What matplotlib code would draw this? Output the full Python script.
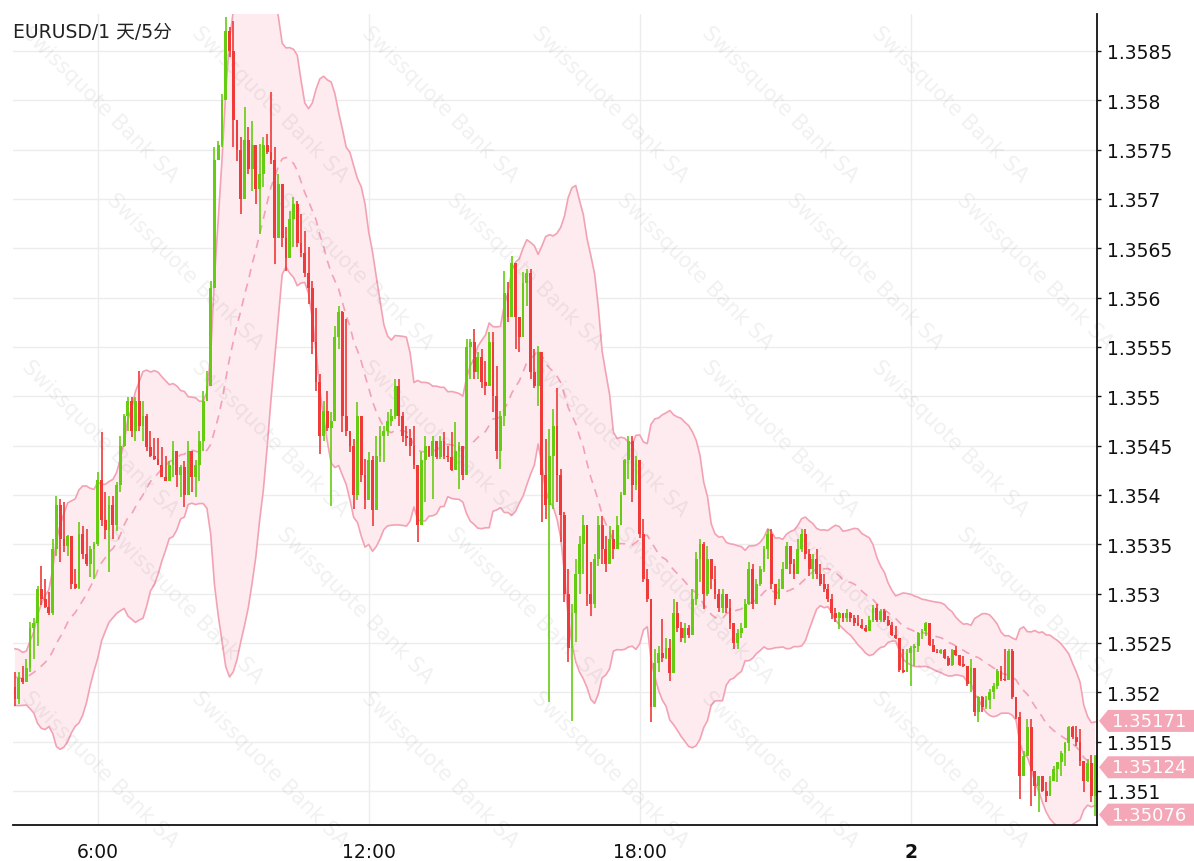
import numpy as np
import pandas as pd
import matplotlib
matplotlib.use("Agg")
import matplotlib.pyplot as plt
import matplotlib.dates as mdates
import matplotlib.transforms as mtransforms
from matplotlib.patches import Polygon

# prices are stored as pips above 1.3500
BASE = 1.35

# closes before the visible window (only needed to warm up the bands)
history_close = [22.5, 23.5, 21.0, 20.0, 22.0, 24.0, 23.0, 21.5, 19.5, 20.5,
                 22.5, 23.0, 21.0, 19.5, 20.0, 22.0, 23.5, 22.0, 20.5]

# 5 minute bars, 04:10 day 1 -> 04:05 day 2
close_pips = [
    19.3, 21.5, 21.0, 22.5, 26.5, 27.0, 30.5, 29.5, 28.6, 28.0, 34.5, 39.0,
    35.5, 34.8, 35.8, 31.0, 30.6, 36.0, 34.0, 33.0, 34.5, 35.0, 41.5, 37.5,
    36.5, 39.0, 37.0, 41.0, 45.0, 48.0, 49.5, 46.5, 49.5, 47.0, 48.0, 44.9,
    44.0, 43.6, 43.0, 41.8, 41.4, 43.0, 44.5, 42.0, 42.8, 40.0, 44.5, 41.8,
    43.0, 45.5, 49.5, 51.0, 61.0, 74.0, 75.5, 80.0, 87.0, 85.0, 78.0, 75.0,
    70.0, 76.0, 73.0, 75.5, 71.0, 72.5, 75.5, 74.8, 74.0, 66.0, 71.5, 66.0,
    64.0, 68.0, 69.5, 65.5, 64.5, 62.5, 61.0, 55.5, 51.5, 46.0, 48.5, 46.8,
    47.5, 56.0, 58.5, 48.0, 46.5, 45.0, 40.0, 48.0, 42.0, 39.5, 43.5, 38.5,
    44.0, 46.0, 46.5, 47.5, 48.0, 51.0, 48.0, 46.0, 45.8, 45.0, 43.0, 37.0,
    43.5, 45.0, 44.0, 45.5, 43.8, 45.5, 44.0, 43.8, 42.5, 44.5, 45.0, 42.0,
    55.0, 55.5, 52.5, 54.0, 51.5, 51.0, 55.5, 50.0, 44.5, 48.0, 60.5, 58.0,
    63.5, 58.0, 56.0, 61.5, 62.5, 52.5, 51.0, 54.5, 42.0, 39.0, 44.0, 47.0,
    42.0, 38.0, 30.0, 24.5, 28.0, 32.0, 35.0, 37.0, 30.0, 29.0, 33.5, 37.0,
    34.5, 33.0, 35.5, 34.5, 37.0, 40.0, 43.5, 45.5, 41.0, 43.5, 36.0, 31.5,
    29.5, 18.5, 23.0, 24.0, 23.5, 24.5, 22.0, 28.0, 26.5, 25.5, 26.5, 25.8,
    29.5, 33.5, 35.0, 30.0, 33.5, 31.5, 30.0, 28.5, 30.0, 28.5, 27.0, 25.0,
    26.0, 26.5, 29.0, 32.5, 29.0, 31.0, 32.5, 34.5, 36.0, 31.0, 29.5, 30.5,
    32.5, 34.8, 33.0, 32.0, 34.5, 36.0, 34.0, 32.5, 33.5, 32.0, 31.0, 30.5,
    29.5, 28.0, 27.5, 28.0, 27.5, 28.0, 27.5, 27.0, 26.8, 26.5, 26.2, 27.3,
    28.5, 27.3, 28.2, 27.3, 26.8, 25.8, 25.5, 22.3, 22.1, 24.0, 24.5, 24.7,
    26.0, 26.2, 27.0, 24.8, 24.1, 24.0, 24.3, 23.5, 22.8, 24.3, 23.8, 22.8,
    22.7, 20.8, 22.5, 18.0, 19.5, 18.5, 19.2, 20.0, 20.6, 22.2, 21.3, 21.2,
    24.2, 19.5, 17.5, 11.5, 13.5, 16.5, 12.0, 10.5, 11.5, 10.0, 9.5, 11.0,
    12.2, 12.9, 13.8, 14.9, 16.5, 15.5, 15.0, 13.0, 11.0, 12.8, 9.5, 13.5,
]
high_pips = [
    22.1, 22.1, 22.7, 23.4, 27.1, 27.5, 30.8, 32.8, 31.5, 30.2, 35.5, 39.9,
    39.6, 39.3, 35.9, 33.8, 32.5, 37.3, 36.9, 36.6, 34.8, 35.2, 42.3, 46.4,
    40.3, 39.9, 39.9, 41.3, 46.0, 48.2, 49.9, 49.9, 49.9, 52.6, 49.5, 48.2,
    46.5, 45.8, 45.8, 44.9, 43.9, 43.4, 45.5, 43.4, 43.0, 43.4, 45.5, 43.4,
    43.5, 46.5, 50.5, 52.6, 61.7, 75.3, 75.9, 80.6, 88.4, 87.4, 88.0, 77.6,
    76.3, 79.3, 77.3, 77.9, 74.6, 75.6, 76.3, 76.6, 80.8, 75.3, 72.5, 69.5,
    67.2, 68.8, 70.2, 69.8, 68.5, 66.8, 65.1, 61.7, 59.0, 52.3, 49.5, 50.5,
    48.4, 57.1, 59.2, 58.6, 57.8, 46.4, 45.7, 49.4, 45.7, 43.6, 44.4, 43.9,
    46.0, 47.0, 47.0, 48.4, 48.7, 51.8, 51.8, 48.4, 47.0, 46.7, 47.0, 42.6,
    44.4, 46.0, 45.0, 46.0, 45.4, 46.0, 46.4, 45.0, 46.4, 47.4, 45.4, 45.0,
    55.8, 55.8, 56.8, 54.5, 54.8, 53.6, 56.5, 56.5, 53.1, 48.5, 62.7, 61.6,
    64.2, 62.2, 58.0, 62.6, 62.9, 62.9, 54.8, 55.1, 53.8, 45.7, 46.7, 48.7,
    50.8, 42.6, 38.3, 32.5, 29.0, 33.5, 35.8, 38.0, 36.0, 33.2, 34.0, 37.9,
    37.9, 35.8, 36.9, 36.5, 37.9, 40.3, 43.6, 46.0, 46.0, 44.0, 43.0, 37.6,
    32.5, 22.7, 24.4, 24.7, 27.4, 25.5, 25.4, 29.5, 29.2, 27.1, 27.0, 26.8,
    30.5, 34.2, 35.5, 35.2, 34.8, 33.5, 32.8, 30.5, 30.5, 30.0, 29.5, 26.5,
    26.4, 27.0, 29.5, 33.2, 33.0, 31.5, 32.8, 34.8, 36.6, 36.6, 30.8, 31.5,
    33.2, 35.2, 34.5, 33.5, 35.5, 36.6, 36.6, 34.5, 34.0, 34.5, 33.0, 32.0,
    31.0, 30.0, 28.5, 28.1, 28.0, 28.4, 28.1, 27.8, 27.8, 27.4, 26.8, 27.7,
    28.8, 29.0, 28.4, 28.4, 27.7, 27.1, 26.7, 24.7, 24.4, 24.4, 24.7, 24.9,
    26.1, 26.4, 27.1, 26.4, 25.4, 24.4, 24.4, 24.4, 23.7, 24.4, 24.7, 23.7,
    23.7, 22.7, 23.4, 21.4, 19.6, 19.6, 19.6, 20.3, 20.9, 22.4, 22.7, 24.4,
    24.4, 24.4, 19.3, 18.0, 14.0, 17.3, 17.3, 11.9, 11.5, 11.2, 10.9, 11.5,
    12.5, 12.9, 14.0, 15.0, 16.6, 16.6, 16.6, 16.3, 12.2, 13.2, 13.6, 13.6,
]
low_pips = [
    18.6, 18.8, 20.8, 21.1, 22.1, 23.4, 24.7, 28.8, 28.5, 27.8, 27.8, 33.8,
    33.2, 34.2, 33.8, 30.5, 30.5, 30.5, 33.5, 32.8, 31.7, 31.5, 34.8, 36.9,
    35.5, 32.2, 35.5, 36.3, 40.3, 44.9, 46.5, 45.9, 45.5, 46.5, 45.5, 44.5,
    43.8, 43.5, 43.0, 41.8, 41.4, 42.1, 41.8, 40.8, 39.8, 38.8, 41.4, 40.3,
    39.8, 41.4, 44.5, 49.5, 51.6, 61.7, 74.3, 75.3, 84.4, 84.4, 75.3, 73.9,
    68.5, 71.5, 72.5, 70.8, 69.5, 66.5, 71.2, 74.6, 73.5, 63.4, 66.8, 65.1,
    62.7, 64.4, 65.1, 65.1, 64.1, 62.1, 59.4, 54.3, 50.5, 44.2, 45.5, 46.5,
    38.9, 48.0, 54.8, 46.4, 46.0, 44.4, 38.6, 39.5, 41.3, 38.6, 39.6, 36.9,
    39.6, 43.3, 43.3, 46.0, 47.0, 47.7, 47.0, 45.4, 45.0, 44.0, 42.6, 35.2,
    37.9, 39.3, 43.8, 39.6, 43.6, 43.6, 43.6, 43.3, 42.4, 43.0, 40.6, 41.5,
    42.6, 51.8, 51.8, 51.8, 50.8, 50.1, 51.8, 48.4, 43.6, 42.6, 47.0, 57.5,
    58.1, 54.8, 54.5, 57.5, 59.2, 51.8, 50.8, 49.0, 37.3, 37.6, 19.0, 38.6,
    39.3, 35.2, 29.2, 23.1, 17.1, 25.1, 30.0, 32.0, 28.7, 27.7, 28.5, 32.8,
    33.0, 32.2, 34.2, 33.5, 35.8, 37.6, 40.3, 41.6, 39.3, 40.5, 35.6, 31.2,
    29.2, 17.0, 19.6, 22.1, 23.1, 23.4, 21.1, 22.7, 26.1, 25.1, 25.0, 25.5,
    26.1, 28.8, 31.2, 28.4, 29.8, 30.5, 29.5, 28.1, 28.0, 28.0, 26.4, 24.4,
    24.4, 25.5, 26.7, 28.8, 28.4, 29.5, 30.8, 32.2, 33.5, 30.5, 28.8, 29.5,
    30.5, 32.5, 32.0, 31.5, 32.0, 34.2, 33.5, 31.8, 31.5, 31.5, 30.8, 30.2,
    29.2, 27.4, 27.1, 26.4, 27.1, 27.1, 27.1, 26.7, 26.7, 26.4, 26.1, 26.4,
    27.1, 27.1, 27.1, 27.1, 26.7, 25.7, 25.4, 22.1, 22.0, 22.7, 20.6, 22.7,
    24.1, 25.4, 25.7, 24.7, 24.1, 24.0, 23.9, 23.4, 22.7, 22.7, 23.7, 22.7,
    22.6, 20.6, 20.0, 17.6, 17.0, 18.0, 18.3, 18.3, 19.3, 20.3, 21.1, 21.1,
    22.4, 19.3, 17.3, 9.2, 12.5, 14.0, 8.5, 9.5, 7.9, 9.9, 8.9, 9.5,
    11.0, 10.9, 11.5, 12.5, 14.0, 15.3, 14.6, 12.5, 9.9, 10.9, 8.9, 7.5,
]

# last values of the upper band, middle band and lower band (right-hand tags)
band_tags = [1.35171, 1.35124, 1.35076]

price_ticks = np.round(np.arange(1.351, 1.35851, 0.0005), 4)
tick_times = ["2013-12-01 06:00", "2013-12-01 12:00", "2013-12-01 18:00", "2013-12-02 00:00"]
tick_labels = ["6:00", "12:00", "18:00", "2"]

GREEN = "#66cc11"
RED = "#f03a3a"
BAND = "#f3a2b4"
FILL = "#fdebef"
TAG = "#f4a7b7"

# ---- data prep
times = pd.date_range("2013-12-01 04:10", periods=len(close_pips), freq="5min")
x = mdates.date2num(times)
step = 5 / 1440.0

close = BASE + np.array(close_pips) / 1e4
high = BASE + np.array(high_pips) / 1e4
low = BASE + np.array(low_pips) / 1e4
open_ = np.concatenate([[BASE + history_close[-1] / 1e4], close[:-1]])
high = np.maximum(high, np.maximum(open_, close))
low = np.minimum(low, np.minimum(open_, close))

# bollinger bands (20, 2)
all_close = pd.Series(np.concatenate([BASE + np.array(history_close) / 1e4, close]))
mid = all_close.rolling(20).mean().to_numpy()[-len(close):]
sd = all_close.rolling(20).std(ddof=0).to_numpy()[-len(close):]
upper = mid + 2 * sd
lower = mid - 2 * sd

# ---- figure
fig = plt.figure(figsize=(11.94, 8.62), dpi=100)
ax = fig.add_axes([13 / 1194, 36 / 862, 1084 / 1194, 811 / 862])

ax.fill_between(x, lower, upper, color=FILL, lw=0, zorder=1)
ax.plot(x, upper, color=BAND, lw=1.2, zorder=2)
ax.plot(x, lower, color=BAND, lw=1.2, zorder=2)
ax.plot(x, mid, color=BAND, lw=1.2, ls=(0, (5, 4)), zorder=2)

# candles
up = close >= open_
cols = np.where(up, GREEN, RED)
ax.vlines(x, low, high, colors=cols, lw=1.2, zorder=4)
body = np.maximum(np.abs(close - open_), 0.000012)
ax.bar(x, body, bottom=np.minimum(open_, close), width=step * 0.75,
       color=cols, lw=0, zorder=4)

# watermark, kept inside the figure
for r, yc in enumerate([105, 272, 439, 606, 770]):
    shift = 85 if r % 2 else 0
    for k in range(0, 8):
        xc = 100 + 170 * k + shift
        if xc > 1100:
            continue
        ax.text(xc / 1194, 1 - yc / 862, "Swissquote Bank SA", transform=fig.transFigure,
                rotation=-45, ha="center", va="center", fontsize=15,
                color="#000000", alpha=0.06, zorder=3, clip_on=False)

# axes styling
ax.set_xlim(x[0] - 0.53 * step, x[0] + 287.5 * step)
ax.set_ylim(1.350655, 1.358875)

ax.yaxis.tick_right()
ax.set_yticks(price_ticks)
ax.set_yticklabels([f"{v:.4f}".rstrip("0") for v in price_ticks])
ax.set_xticks(mdates.date2num(pd.to_datetime(tick_times)))
ax.set_xticklabels(tick_labels)
ax.get_xticklabels()[-1].set_fontweight("bold")

ax.tick_params(axis="y", right=True, left=False, length=3, width=1,
               pad=4, labelsize=13.5, colors="#111111")
ax.tick_params(axis="x", length=0, pad=12, labelsize=13.5, colors="#111111")

ax.grid(color="#ececec", lw=1)
ax.set_axisbelow(True)
for s in ["left", "top"]:
    ax.spines[s].set_visible(False)
for s in ["right", "bottom"]:
    ax.spines[s].set_color("#111111")
    ax.spines[s].set_linewidth(1.3)
    ax.spines[s].set_zorder(6)

# price tags on the right
trans = mtransforms.blended_transform_factory(ax.transAxes, ax.transData)
half = 11 * 0.0005 / 49.33
tip, start, end = (1099 - 13) / 1084, (1108 - 13) / 1084, (1200 - 13) / 1084
for v in band_tags:
    poly = Polygon([(tip, v), (start, v + half), (end, v + half), (end, v - half), (start, v - half)],
                   closed=True, transform=trans, facecolor=TAG, edgecolor="none",
                   clip_on=False, zorder=7)
    ax.add_patch(poly)
    ax.text((1112 - 13) / 1084, v, f"{v:.5f}", transform=trans, color="white",
            fontsize=13, va="center", ha="left", clip_on=False, zorder=8)

# title
fig.text(13 / 1194, 1 - 32 / 862, "EURUSD/1 天/5分", fontsize=13.5, color="#222222",
         va="center", ha="left", family=["DejaVu Sans", "Noto Sans CJK SC"])

fig.savefig("out.png", dpi=100)
